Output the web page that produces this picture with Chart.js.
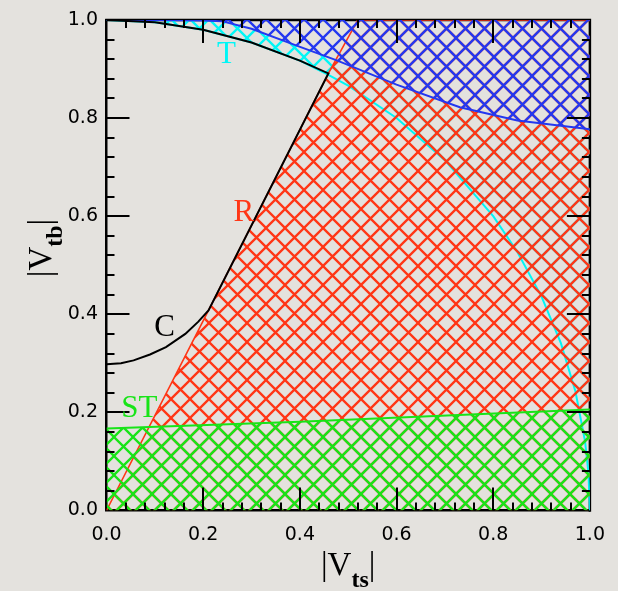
<!DOCTYPE html>
<html>
<head>
<meta charset="utf-8">
<script src="https://cdn.jsdelivr.net/npm/chart.js@4"></script>
<style>
  html, body { margin: 0; padding: 0; background: #e4e2de; }
  canvas { display: block; }
</style>
</head>
<body>
<canvas id="vtbChart" width="618" height="591"></canvas>
<script>
// |Vts| vs |Vtb| allowed regions

// unit circle (cyan, T)
const circleTs = [0, 0.1, 0.2, 0.3, 0.4, 0.459, 0.5, 0.6, 0.7, 0.8, 0.85, 0.9, 0.94, 0.97, 0.99, 0.997, 1.0];
const circleTb = [1.0, 0.995, 0.98, 0.954, 0.917, 0.888, 0.866, 0.8, 0.714, 0.6, 0.527, 0.436, 0.341, 0.243, 0.141, 0.077, 0.0];

// upper bound (blue)
const blueTs = [0, 0.1, 0.2, 0.24, 0.3, 0.392, 0.475, 0.6, 0.731, 0.85, 1.0];
const blueTb = [1.0, 1.0, 0.999, 0.997, 0.982, 0.948, 0.918, 0.868, 0.822, 0.795, 0.777];

// R boundary (red)
const redTs = [0, 0.211, 0.459, 0.52, 1.0];
const redTb = [0, 0.408, 0.891, 1.0, 1.0];

// single top bound (green, ST)
const greenTs = [0, 0.4, 0.765, 1.0];
const greenTb = [0.167, 0.181, 0.196, 0.206];

// C contour (black)
const cTs = [0, 0.03, 0.056, 0.09, 0.123, 0.163, 0.19, 0.211, 0.459, 0.4, 0.3, 0.2, 0.1, 0];
const cTb = [0.298, 0.3, 0.306, 0.318, 0.333, 0.36, 0.385, 0.408, 0.891, 0.917, 0.954, 0.98, 0.995, 1.0];

const axisTicks = [0, 0.2, 0.4, 0.6, 0.8, 1.0];

const RED = '#ff3616';
const GREEN = '#18e418';
const BLUE = '#2438f0';
const CYAN = '#00f6f6';

// region labels, anchored in data coordinates
const regionNotes = [
    { text: 'T', ts: 0.248, tb: 0.928, color: CYAN },
    { text: 'R', ts: 0.284, tb: 0.607, color: RED },
    { text: 'C', ts: 0.12, tb: 0.372, color: '#000' },
    { text: 'ST', ts: 0.068, tb: 0.208, color: GREEN }
];

function pts(xs, ys) {
    return xs.map((x, i) => ({ x: x, y: ys[i] }));
}

// cross-hatch, all tiles anchored to canvas origin so the grids line up
function hatch(color) {
    const s = 19;
    const c = document.createElement('canvas');
    c.width = s; c.height = s;
    const g = c.getContext('2d');
    g.strokeStyle = color;
    g.lineWidth = 2.3;
    g.beginPath();
    g.moveTo(-2, -2); g.lineTo(s + 2, s + 2);
    g.moveTo(-2, s + 2); g.lineTo(s + 2, -2);
    g.stroke();
    return g.createPattern(c, 'repeat');
}

const tickFont = { family: 'DejaVu Sans', size: 19 };
const fmt = v => Number(v).toFixed(1);

// top/right frame under the data, inward ticks on all four sides over it
const framePlugin = {
    id: 'frame',
    beforeDatasetsDraw(chart) {
        const ctx = chart.ctx, a = chart.chartArea;
        ctx.save();
        ctx.strokeStyle = '#000';
        ctx.lineWidth = 2.5;
        ctx.beginPath();
        ctx.moveTo(a.left - 1.25, a.top);
        ctx.lineTo(a.right, a.top);
        ctx.lineTo(a.right, a.bottom + 1.25);
        ctx.stroke();
        ctx.restore();
    },
    afterDatasetsDraw(chart) {
        const ctx = chart.ctx, a = chart.chartArea;
        const xs = chart.scales.x, ys = chart.scales.y;
        ctx.save();
        ctx.strokeStyle = '#000';
        ctx.lineWidth = 2;
        ctx.beginPath();
        for (let i = 1; i < 25; i++) {
            const v = i * 0.04;
            const len = i % 5 === 0 ? 23 : 8;
            const px = Math.round(xs.getPixelForValue(v));
            const py = Math.round(ys.getPixelForValue(v));
            ctx.moveTo(px, a.bottom); ctx.lineTo(px, a.bottom - len);
            ctx.moveTo(px, a.top); ctx.lineTo(px, a.top + len);
            ctx.moveTo(a.left, py); ctx.lineTo(a.left + len, py);
            ctx.moveTo(a.right, py); ctx.lineTo(a.right - len, py);
        }
        ctx.stroke();
        ctx.restore();
    }
};

const notesPlugin = {
    id: 'notes',
    afterDatasetsDraw(chart) {
        const ctx = chart.ctx;
        const xs = chart.scales.x, ys = chart.scales.y;
        ctx.save();
        ctx.font = '31px "Liberation Serif"';
        ctx.textAlign = 'center';
        ctx.textBaseline = 'middle';
        regionNotes.forEach(n => {
            ctx.fillStyle = n.color;
            ctx.fillText(n.text, xs.getPixelForValue(n.ts), ys.getPixelForValue(n.tb));
        });
        ctx.restore();
    },
    afterDraw(chart) {
        const ctx = chart.ctx;
        const area = chart.chartArea;
        const mainFont = '33px "Liberation Serif"';
        const subFont = 'bold 24px "Liberation Serif"';
        function title(sub, shift) {
            ctx.font = mainFont;
            const w1 = ctx.measureText('|V').width;
            const w3 = ctx.measureText('|').width;
            ctx.font = subFont;
            const w2 = ctx.measureText(sub).width;
            let x = -(w1 + w2 + w3) / 2;
            ctx.textAlign = 'left';
            ctx.textBaseline = 'alphabetic';
            ctx.fillStyle = '#000';
            ctx.font = mainFont;
            ctx.fillText('|V', x, 0);
            ctx.font = subFont;
            ctx.fillText(sub, x + w1, shift);
            ctx.font = mainFont;
            ctx.fillText('|', x + w1 + w2, 0);
        }
        ctx.save();
        ctx.translate((area.left + area.right) / 2, 575);
        title('ts', 12);
        ctx.restore();
        ctx.save();
        ctx.translate(51, 248);
        ctx.rotate(-Math.PI / 2);
        title('tb', 11);
        ctx.restore();
    }
};

const ctx = document.getElementById('vtbChart').getContext('2d');

new Chart(ctx, {
    type: 'line',
    data: {
        datasets: [
            { label: 'T', data: pts(circleTs, circleTb), borderColor: CYAN, borderWidth: 2, backgroundColor: hatch(CYAN), fill: 2, order: 5 },
            { label: 'R', data: pts(redTs, redTb), borderColor: RED, borderWidth: 1.6, backgroundColor: hatch(RED), fill: 'origin', order: 4 },
            { label: 'upper', data: pts(blueTs, blueTb), borderColor: BLUE, borderWidth: 2, backgroundColor: hatch(BLUE), fill: 'end', order: 3 },
            { label: 'ST', data: pts(greenTs, greenTb), borderColor: GREEN, borderWidth: 2, backgroundColor: hatch(GREEN), fill: 'origin', order: 2 },
            { label: 'C', data: pts(cTs, cTb), borderColor: '#000', borderWidth: 2, fill: false, order: 1 }
        ]
    },
    options: {
        responsive: false,
        animation: false,
        events: [],
        layout: { padding: { left: 0, right: 18, top: 18, bottom: 0 } },
        elements: { point: { radius: 0 }, line: { tension: 0 } },
        plugins: { legend: { display: false }, tooltip: { enabled: false } },
        scales: {
            x: {
                type: 'linear', position: 'bottom', min: 0, max: 1,
                afterBuildTicks: s => { s.ticks = axisTicks.map(v => ({ value: v })); },
                ticks: { color: '#000', font: tickFont, padding: 13, autoSkip: false, maxRotation: 0, callback: fmt },
                grid: { drawOnChartArea: false, drawTicks: false },
                border: { display: true, color: '#000', width: 2.5 },
                afterFit: s => { s.height = 80.5; }
            },
            y: {
                type: 'linear', position: 'left', min: 0, max: 1,
                afterBuildTicks: s => { s.ticks = axisTicks.map(v => ({ value: v })); },
                ticks: { color: '#000', font: tickFont, padding: 8.5, autoSkip: false, callback: fmt },
                grid: { drawOnChartArea: false, drawTicks: false },
                border: { display: true, color: '#000', width: 2.5 },
                afterFit: s => { s.width = 106.5; }
            }
        }
    },
    plugins: [framePlugin, notesPlugin]
});
</script>
</body>
</html>
